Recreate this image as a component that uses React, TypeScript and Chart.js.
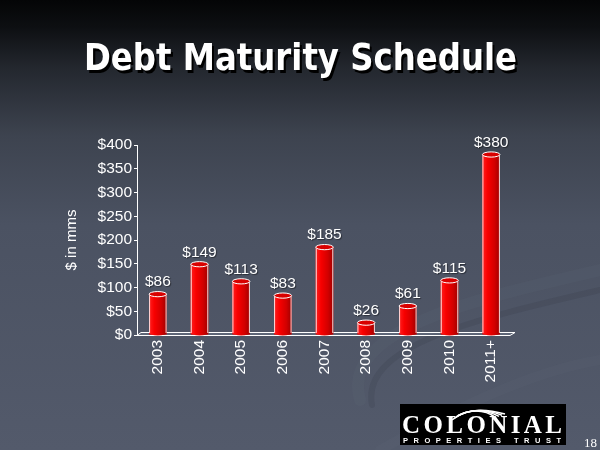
import React, { useEffect, useRef } from 'react';
import { Chart, registerables } from 'chart.js';

Chart.register(...registerables);

const categories = ['2003', '2004', '2005', '2006', '2007', '2008', '2009', '2010', '2011+'];
const debtValues = [86, 149, 113, 83, 185, 26, 61, 115, 380];
const yMin = 0;
const yMax = 400;
const yStep = 50;
const titleText = 'Debt Maturity Schedule';
const yAxisTitle = '$ in mms';
const logoName = 'COLONIAL';
const logoSub = 'PROPERTIES TRUST';
const pageNumber = '18';

const FONT = '"Liberation Sans", Arial, sans-serif';

function spacedText(ctx: CanvasRenderingContext2D, text: string, x0: number, x1: number, y: number) {
  const widths = text.split('').map((c) => ctx.measureText(c).width);
  const total = widths.reduce((a, b) => a + b, 0);
  const gap = text.length > 1 ? (x1 - x0 - total) / (text.length - 1) : 0;
  let x = x0;
  ctx.textAlign = 'left';
  text.split('').forEach((c, i) => {
    ctx.fillText(c, x, y);
    x += widths[i] + gap;
  });
}

const slidePlugin = {
  id: 'slide',
  beforeDraw(chart: any) {
    const { ctx, width, height } = chart;
    ctx.save();
    const g = ctx.createLinearGradient(0, 0, 0, height);
    g.addColorStop(0, '#040506');
    g.addColorStop(0.06, '#0d0f12');
    g.addColorStop(0.15, '#23272e');
    g.addColorStop(0.3, '#3d434f');
    g.addColorStop(0.5, '#4b5262');
    g.addColorStop(1, '#535a6b');
    ctx.fillStyle = g;
    ctx.fillRect(0, 0, width, height);
    // faint swirl decoration
    ctx.lineCap = 'round';
    ctx.strokeStyle = 'rgba(120,128,145,0.08)';
    ctx.lineWidth = 12;
    ctx.beginPath();
    ctx.moveTo(360, 400);
    ctx.bezierCurveTo(340, 330, 470, 300, 600, 270);
    ctx.stroke();
    ctx.strokeStyle = 'rgba(30,34,42,0.10)';
    ctx.lineWidth = 6;
    ctx.beginPath();
    ctx.moveTo(372, 405);
    ctx.bezierCurveTo(360, 345, 480, 318, 600, 290);
    ctx.stroke();
    ctx.strokeStyle = 'rgba(120,128,145,0.07)';
    ctx.lineWidth = 10;
    ctx.beginPath();
    ctx.moveTo(380, 450);
    ctx.bezierCurveTo(470, 400, 540, 370, 600, 360);
    ctx.stroke();
    ctx.restore();
  },
  beforeDatasetsDraw(chart: any) {
    const { ctx, chartArea } = chart;
    const { left, right, bottom } = chartArea;
    ctx.save();
    ctx.beginPath();
    ctx.moveTo(left, bottom + 0.5);
    ctx.lineTo(right - 2, bottom + 0.5);
    ctx.lineTo(right + 3, bottom - 2.5);
    ctx.lineTo(left + 4, bottom - 2.5);
    ctx.closePath();
    ctx.fillStyle = 'rgba(110,118,135,0.5)';
    ctx.fill();
    ctx.strokeStyle = '#ffffff';
    ctx.lineWidth = 1;
    ctx.stroke();
    ctx.restore();
  },
  afterDatasetsDraw(chart: any) {
    const { ctx } = chart;
    const meta = chart.getDatasetMeta(0);
    const data = chart.data.datasets[0].data as number[];
    ctx.save();
    meta.data.forEach((el: any, i: number) => {
      const { x, y, base, width } = el.getProps(['x', 'y', 'base', 'width'], true);
      const l = x - width / 2;
      const r = x + width / 2;
      const ry = 2.6;
      const bot = base - 1.5;
      const g = ctx.createLinearGradient(l, 0, r, 0);
      g.addColorStop(0, '#ff2020');
      g.addColorStop(0.3, '#f80000');
      g.addColorStop(0.7, '#d20000');
      g.addColorStop(1, '#a00000');
      ctx.beginPath();
      ctx.moveTo(l, y);
      ctx.lineTo(l, bot);
      ctx.ellipse(x, bot, width / 2, ry, 0, Math.PI, 0, true);
      ctx.lineTo(r, y);
      ctx.closePath();
      ctx.fillStyle = g;
      ctx.fill();
      ctx.strokeStyle = 'rgba(255,255,255,0.85)';
      ctx.lineWidth = 1;
      ctx.beginPath();
      ctx.moveTo(l + 0.5, y);
      ctx.lineTo(l + 0.5, bot);
      ctx.moveTo(r - 0.5, y);
      ctx.lineTo(r - 0.5, bot);
      ctx.stroke();
      // top ellipse
      ctx.beginPath();
      ctx.ellipse(x, y, width / 2, ry, 0, 0, Math.PI * 2);
      ctx.fillStyle = '#d80000';
      ctx.fill();
      ctx.strokeStyle = '#ffffff';
      ctx.stroke();
      // value label
      ctx.font = '15.5px ' + FONT;
      ctx.fillStyle = '#ffffff';
      ctx.textAlign = 'center';
      ctx.textBaseline = 'middle';
      ctx.shadowColor = 'rgba(0,0,0,0.45)';
      ctx.shadowOffsetX = 1;
      ctx.shadowOffsetY = 1;
      ctx.shadowBlur = 1;
      ctx.fillText('$' + data[i], x, y - 12);
      ctx.shadowColor = 'transparent';
    });
    ctx.restore();
  },
  afterDraw(chart: any) {
    const { ctx } = chart;
    ctx.save();
    // title
    ctx.font = 'bold 38px "DejaVu Sans", Verdana, sans-serif';
    ctx.textBaseline = 'alphabetic';
    ctx.textAlign = 'center';
    const w = ctx.measureText(titleText).width;
    const sx = 433 / w;
    ctx.save();
    ctx.translate(300.5, 70);
    ctx.scale(sx, 1);
    ctx.fillStyle = '#000000';
    ctx.fillText(titleText, 2.5, 2.5);
    ctx.fillStyle = '#ffffff';
    ctx.fillText(titleText, 0, 0);
    ctx.restore();

    // logo
    ctx.fillStyle = '#000000';
    ctx.fillRect(400, 404, 166, 41);
    ctx.fillStyle = '#ffffff';
    ctx.textBaseline = 'alphabetic';
    ctx.font = 'bold 25px "Liberation Serif", "Times New Roman", serif';
    spacedText(ctx, logoName, 402, 562, 433);
    ctx.font = 'bold 7.5px "Liberation Sans", Arial, sans-serif';
    spacedText(ctx, logoSub, 403, 561, 443);
    // emblem swoosh
    ctx.strokeStyle = '#ffffff';
    ctx.lineWidth = 1.5;
    for (let k = 0; k < 4; k++) {
      ctx.beginPath();
      ctx.moveTo(452 + k * 2, 420 - k * 1.5);
      ctx.quadraticCurveTo(470 + k * 3, 404 + k * 0.5, 505 - k * 3, 414 + k * 1.2);
      ctx.stroke();
    }
    // page number
    ctx.font = '13px "Liberation Serif", serif';
    ctx.textAlign = 'left';
    ctx.fillText(pageNumber, 584, 447);
    ctx.restore();
  },
};

export default function App() {
  const ref = useRef<HTMLCanvasElement>(null);
  useEffect(() => {
    if (!ref.current) return;
    const chart = new Chart(ref.current, {
      type: 'bar',
      data: {
        labels: categories,
        datasets: [
          {
            data: debtValues,
            backgroundColor: '#e00000',
            borderWidth: 0,
            categoryPercentage: 1,
            barPercentage: 0.42,
          },
        ],
      },
      options: {
        responsive: false,
        animation: false,
        devicePixelRatio: 1,
        layout: { padding: { left: 63, top: 145, right: 88, bottom: 0 } },
        plugins: {
          legend: { display: false },
          tooltip: { enabled: false },
          title: { display: false },
        },
        scales: {
          x: {
            grid: { display: false, drawTicks: false },
            border: { display: false },
            ticks: {
              color: '#ffffff',
              font: { family: FONT, size: 15.5 },
              minRotation: 90,
              maxRotation: 90,
              padding: 5,
              autoSkip: false,
            },
            afterFit: (s: any) => {
              s.height = 115;
            },
          },
          y: {
            min: yMin,
            max: yMax,
            grid: { drawOnChartArea: false, drawTicks: true, tickLength: 3, color: '#ffffff' },
            border: { display: true, color: '#ffffff', width: 1 },
            ticks: {
              stepSize: yStep,
              color: '#ffffff',
              padding: 2,
              font: { family: FONT, size: 15.5 },
              callback: (v: any) => '$' + v,
            },
            title: {
              display: true,
              text: yAxisTitle,
              color: '#ffffff',
              padding: 0,
              font: { family: FONT, size: 15 },
            },
            afterFit: (s: any) => {
              s.width = 74;
            },
          },
        },
      },
      plugins: [slidePlugin],
    });
    return () => chart.destroy();
  }, []);
  return (
    <div style={{ position: 'absolute', left: 0, top: 0, width: 600, height: 450 }}>
      <canvas ref={ref} width={600} height={450} style={{ display: 'block' }} />
    </div>
  );
}
